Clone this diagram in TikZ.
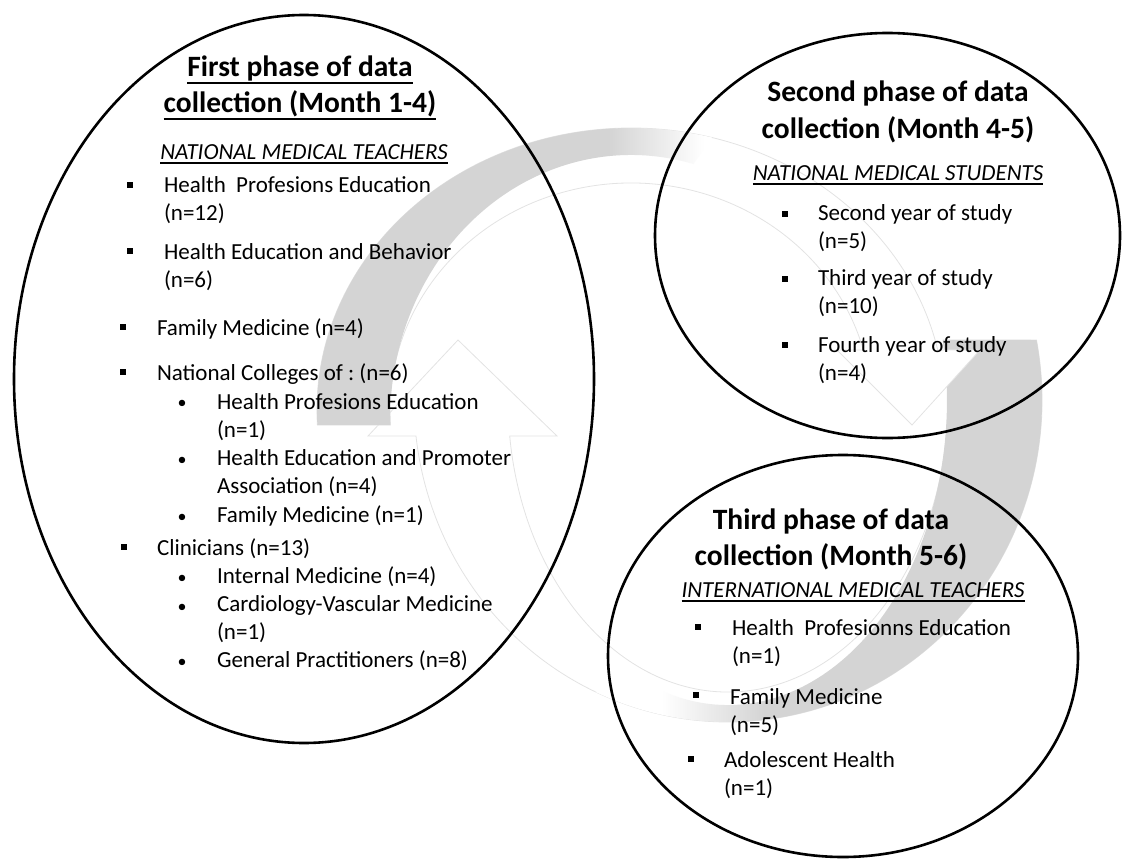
\documentclass[tikz,border=0pt]{standalone}
\usepackage{fontspec}
\setmainfont{Carlito}
\usepackage{xcolor}
\usepackage{tikz}
\frenchspacing

\colorlet{arcgray}{black!17}
\colorlet{arcline}{black!11}
% gray tail fading to white towards the arrow head
\pgfdeclarehorizontalshading{faderight}{100bp}{color(0bp)=(arcgray); color(62bp)=(arcgray); color(74bp)=(white); color(100bp)=(white)}
\pgfdeclarehorizontalshading{fadeleft}{100bp}{color(0bp)=(white); color(32bp)=(white); color(43bp)=(arcgray); color(100bp)=(arcgray)}

\newcommand{\undl}[1]{\setbox0=\hbox{#1}\rlap{\rule[-4.5pt]{\wd0}{1.3pt}}\box0}
\newcommand{\undlh}[1]{\setbox0=\hbox{#1}\rlap{\rule[-7pt]{\wd0}{2pt}}\box0}

\begin{document}
\begin{tikzpicture}[x=1pt,y=-1pt,
    every node/.style={inner sep=0pt,outer sep=0pt},
    phase/.style={anchor=base,align=center,font=\bfseries\fontsize{29.5}{36}\selectfont},
    group/.style={anchor=base,font=\itshape\fontsize{23}{27.5}\selectfont},
    item/.style={anchor=base west,align=left,font=\fontsize{23}{27.5}\selectfont},
    sqbul/.style={fill=black,minimum size=6.5pt},
    dotbul/.style={anchor=base,font=\fontsize{18}{20}\selectfont},
    bubble/.style={draw=black,line width=2.6pt},
    arrowbody/.style={fill=white,draw=arcline,line width=0.8pt}]
        \useasboundingbox (0,0) rectangle (1122,859);
        % lower arrow (right tail, head pointing up)
        \filldraw[arrowbody] (1036.5,340) arc[start angle=-10.74,end angle=173.58,x radius=314,y radius=322]
            -- (368,436) -- (458,340) -- (557,436) -- (509.7,436)
            arc[start angle=172.92,end angle=-11.86,x radius=220,y radius=292] -- cycle;
        \shade[shading=fadeleft] (1036.5,340) arc[start angle=-10.74,end angle=115,x radius=314,y radius=322]
            -- (635.4,676.4) arc[start angle=115,end angle=-11.35,x radius=219,y radius=305] -- cycle;
        % upper arrow (left tail, head pointing down)
        \filldraw[arrowbody] (317.4,425) arc[start angle=176.95,end angle=347.71,x radius=314,y radius=282]
            -- (980,350) -- (912,425) -- (837,350) -- (863.4,350)
            arc[start angle=344.67,end angle=176.21,x radius=241,y radius=227] -- cycle;
        \shade[shading=faderight] (317.4,425) arc[start angle=176.95,end angle=285,x radius=314,y radius=282]
            -- (693.4,164) arc[start angle=285,end angle=178.9,x radius=241,y radius=265] -- cycle;

        % the three phases
        \draw[bubble] (304,379) ellipse [x radius=290,y radius=364];
        \draw[bubble] (887.5,235.5) ellipse [x radius=232.5,y radius=202.5];
        \draw[bubble] (843,656) ellipse [x radius=235,y radius=201];

        % first phase (two-line nodes sit on their last line)
        \node[phase] (p1head) at (300,113) {\undlh{First phase of data}\\\undlh{collection (Month 1-4)}};
        \node[group] (p1grp) at (304,159) {\undl{NATIONAL MEDICAL TEACHERS}};
        \foreach \x/\y [count=\i] in {130/185,130/251,123/327,123/372,124/547}
            \node[sqbul] (p1sq\i) at (\x,\y) {};
        \foreach \y [count=\i] in {408,465,522,583,612,667}
            \node[dotbul] (p1dot\i) at (182,\y) {•};
        \node[item] (p1a) at (164,220) {Health\ \ Profesions Education\\(n=12)};
        \node[item] (p1b) at (164,287) {Health Education and Behavior\\(n=6)};
        \node[item] (p1c) at (157,335) {Family Medicine (n=4)};
        \node[item] (p1d) at (157,380) {National Colleges of : (n=6)};
        \node[item] (p1d1) at (217,437) {Health Profesions Education\\(n=1)};
        \node[item] (p1d2) at (217,493) {Health Education and Promoter\\Association (n=4)};
        \node[item] (p1d3) at (217,522) {Family Medicine (n=1)};
        \node[item] (p1e) at (157,555) {Clinicians (n=13)};
        \node[item] (p1e1) at (217,583) {Internal Medicine (n=4)};
        \node[item] (p1e2) at (217,639) {Cardiology-Vascular Medicine\\(n=1)};
        \node[item] (p1e3) at (217,667) {General Practitioners (n=8)};

        % second phase
        \node[phase] (p2head) at (898,138) {Second phase of data\\collection (Month 4-5)};
        \node[group] (p2grp) at (898,180) {\undl{NATIONAL MEDICAL STUDENTS}};
        \foreach \y [count=\i] in {214,279,345}
            \node[sqbul] (p2sq\i) at (785,\y) {};
        \node[item] (p2a) at (818,248) {Second year of study\\(n=5)};
        \node[item] (p2b) at (818,313) {Third year of study\\(n=10)};
        \node[item] (p2c) at (818,380) {Fourth year of study\\(n=4)};

        % third phase
        \node[phase] (p3head) at (831,565) {Third phase of data\\collection (Month 5-6)};
        \node[group] (p3grp) at (853,597) {\undl{INTERNATIONAL MEDICAL TEACHERS}};
        \foreach \x/\y [count=\i] in {698/627,696/695,691/759}
            \node[sqbul] (p3sq\i) at (\x,\y) {};
        \node[item] (p3a) at (732,663) {Health\ \ Profesionns Education\\(n=1)};
        \node[item] (p3b) at (730,732) {Family Medicine\\(n=5)};
        \node[item] (p3c) at (724,795) {Adolescent Health\\(n=1)};
\end{tikzpicture}
\end{document}
